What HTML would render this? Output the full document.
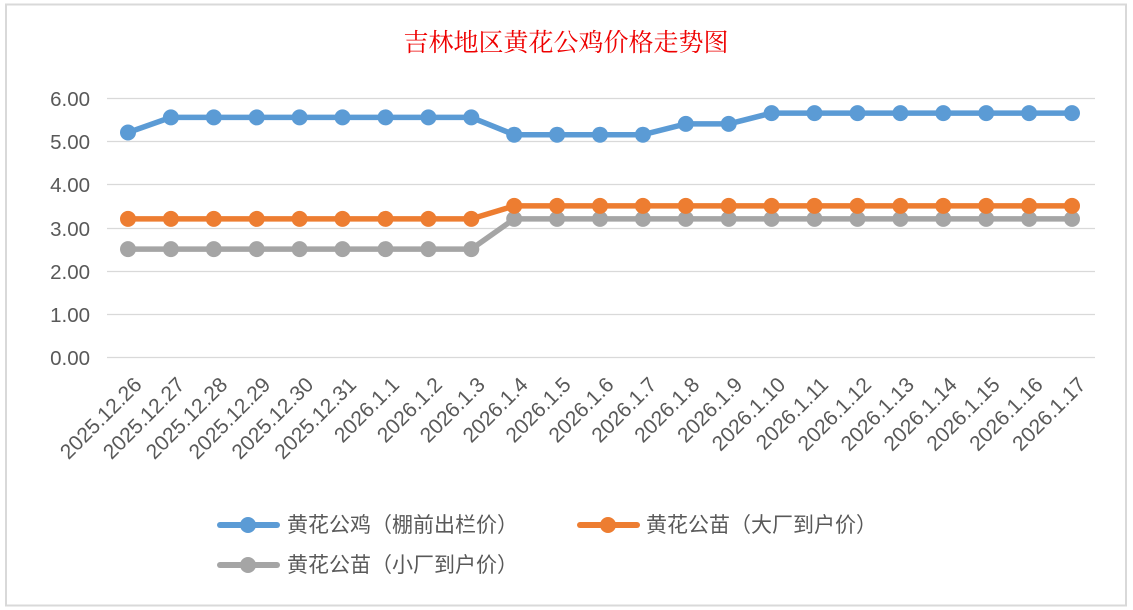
<!DOCTYPE html><html><head><meta charset="utf-8"><style>body{margin:0;background:#fff}svg{display:block}text{font-family:"Liberation Sans","Noto Sans CJK SC",sans-serif}</style></head><body>
<svg width="1133" height="610" xmlns="http://www.w3.org/2000/svg">
<rect x="0" y="0" width="1133" height="610" fill="#fff"/>
<rect x="6" y="4.5" width="1120" height="601" fill="#fff" stroke="#d9d9d9" stroke-width="2"/>
<text x="566" y="51" text-anchor="middle" font-size="25" fill="#e00" style="font-family:'Noto Serif CJK SC',serif">吉林地区黄花公鸡价格走势图</text>
<g stroke="#d9d9d9" stroke-width="1.3">
<line x1="107" x2="1095" y1="98.5" y2="98.5"/><line x1="107" x2="1095" y1="141.5" y2="141.5"/><line x1="107" x2="1095" y1="184.5" y2="184.5"/><line x1="107" x2="1095" y1="228.5" y2="228.5"/><line x1="107" x2="1095" y1="271.5" y2="271.5"/><line x1="107" x2="1095" y1="314.5" y2="314.5"/><line x1="107" x2="1095" y1="357.5" y2="357.5"/>
</g>
<g font-size="20.5" fill="#595959" text-anchor="end">
<text x="90" y="106">6.00</text><text x="90" y="149">5.00</text><text x="90" y="192">4.00</text><text x="90" y="236">3.00</text><text x="90" y="279">2.00</text><text x="90" y="322">1.00</text><text x="90" y="365">0.00</text>
</g>
<g fill="none" stroke-width="5.5" stroke-linejoin="round" stroke-linecap="round">
<polyline stroke="#a5a5a5" points="128,249.1 471.3,249.1 514.2,218.9 1072,218.9"/>
<polyline stroke="#ed7d31" points="128,218.9 471.3,218.9 514.2,205.9 1072,205.9"/>
<polyline stroke="#5b9bd5" points="128,132.5 170.9,117.4 471.3,117.4 514.2,134.7 642.9,134.7 685.8,123.9 728.7,123.9 771.6,113.1 1072,113.1"/>
</g>
<g fill="#a5a5a5">
<circle cx="128" cy="249.1" r="8"/><circle cx="170.9" cy="249.1" r="8"/><circle cx="213.8" cy="249.1" r="8"/><circle cx="256.7" cy="249.1" r="8"/><circle cx="299.6" cy="249.1" r="8"/><circle cx="342.5" cy="249.1" r="8"/><circle cx="385.5" cy="249.1" r="8"/><circle cx="428.4" cy="249.1" r="8"/><circle cx="471.3" cy="249.1" r="8"/>
<circle cx="514.2" cy="218.9" r="8"/><circle cx="557.1" cy="218.9" r="8"/><circle cx="600" cy="218.9" r="8"/><circle cx="642.9" cy="218.9" r="8"/><circle cx="685.8" cy="218.9" r="8"/><circle cx="728.7" cy="218.9" r="8"/><circle cx="771.6" cy="218.9" r="8"/><circle cx="814.5" cy="218.9" r="8"/><circle cx="857.5" cy="218.9" r="8"/><circle cx="900.4" cy="218.9" r="8"/><circle cx="943.3" cy="218.9" r="8"/><circle cx="986.2" cy="218.9" r="8"/><circle cx="1029.1" cy="218.9" r="8"/><circle cx="1072" cy="218.9" r="8"/>
</g>
<g fill="#ed7d31">
<circle cx="128" cy="218.9" r="8"/><circle cx="170.9" cy="218.9" r="8"/><circle cx="213.8" cy="218.9" r="8"/><circle cx="256.7" cy="218.9" r="8"/><circle cx="299.6" cy="218.9" r="8"/><circle cx="342.5" cy="218.9" r="8"/><circle cx="385.5" cy="218.9" r="8"/><circle cx="428.4" cy="218.9" r="8"/><circle cx="471.3" cy="218.9" r="8"/>
<circle cx="514.2" cy="205.9" r="8"/><circle cx="557.1" cy="205.9" r="8"/><circle cx="600" cy="205.9" r="8"/><circle cx="642.9" cy="205.9" r="8"/><circle cx="685.8" cy="205.9" r="8"/><circle cx="728.7" cy="205.9" r="8"/><circle cx="771.6" cy="205.9" r="8"/><circle cx="814.5" cy="205.9" r="8"/><circle cx="857.5" cy="205.9" r="8"/><circle cx="900.4" cy="205.9" r="8"/><circle cx="943.3" cy="205.9" r="8"/><circle cx="986.2" cy="205.9" r="8"/><circle cx="1029.1" cy="205.9" r="8"/><circle cx="1072" cy="205.9" r="8"/>
</g>
<g fill="#5b9bd5">
<circle cx="128" cy="132.5" r="8"/><circle cx="170.9" cy="117.4" r="8"/><circle cx="213.8" cy="117.4" r="8"/><circle cx="256.7" cy="117.4" r="8"/><circle cx="299.6" cy="117.4" r="8"/><circle cx="342.5" cy="117.4" r="8"/><circle cx="385.5" cy="117.4" r="8"/><circle cx="428.4" cy="117.4" r="8"/><circle cx="471.3" cy="117.4" r="8"/>
<circle cx="514.2" cy="134.7" r="8"/><circle cx="557.1" cy="134.7" r="8"/><circle cx="600" cy="134.7" r="8"/><circle cx="642.9" cy="134.7" r="8"/><circle cx="685.8" cy="123.9" r="8"/><circle cx="728.7" cy="123.9" r="8"/><circle cx="771.6" cy="113.1" r="8"/><circle cx="814.5" cy="113.1" r="8"/><circle cx="857.5" cy="113.1" r="8"/><circle cx="900.4" cy="113.1" r="8"/><circle cx="943.3" cy="113.1" r="8"/><circle cx="986.2" cy="113.1" r="8"/><circle cx="1029.1" cy="113.1" r="8"/><circle cx="1072" cy="113.1" r="8"/>
</g>
<g font-size="21" fill="#595959" text-anchor="end">
<text transform="translate(143,386) rotate(-45)">2025.12.26</text>
<text transform="translate(185.9,386) rotate(-45)">2025.12.27</text>
<text transform="translate(228.8,386) rotate(-45)">2025.12.28</text>
<text transform="translate(271.7,386) rotate(-45)">2025.12.29</text>
<text transform="translate(314.6,386) rotate(-45)">2025.12.30</text>
<text transform="translate(357.5,386) rotate(-45)">2025.12.31</text>
<text transform="translate(400.5,386) rotate(-45)">2026.1.1</text>
<text transform="translate(443.4,386) rotate(-45)">2026.1.2</text>
<text transform="translate(486.3,386) rotate(-45)">2026.1.3</text>
<text transform="translate(529.2,386) rotate(-45)">2026.1.4</text>
<text transform="translate(572.1,386) rotate(-45)">2026.1.5</text>
<text transform="translate(615,386) rotate(-45)">2026.1.6</text>
<text transform="translate(657.9,386) rotate(-45)">2026.1.7</text>
<text transform="translate(700.8,386) rotate(-45)">2026.1.8</text>
<text transform="translate(743.7,386) rotate(-45)">2026.1.9</text>
<text transform="translate(786.6,386) rotate(-45)">2026.1.10</text>
<text transform="translate(829.5,386) rotate(-45)">2026.1.11</text>
<text transform="translate(872.5,386) rotate(-45)">2026.1.12</text>
<text transform="translate(915.4,386) rotate(-45)">2026.1.13</text>
<text transform="translate(958.3,386) rotate(-45)">2026.1.14</text>
<text transform="translate(1001.2,386) rotate(-45)">2026.1.15</text>
<text transform="translate(1044.1,386) rotate(-45)">2026.1.16</text>
<text transform="translate(1087,386) rotate(-45)">2026.1.17</text>
</g>
<g font-size="21" fill="#595959">
<line x1="220" x2="277" y1="525" y2="525" stroke="#5b9bd5" stroke-width="6" stroke-linecap="round"/><circle cx="248" cy="525" r="8" fill="#5b9bd5"/>
<text x="287" y="532">黄花公鸡（棚前出栏价）</text>
<line x1="580" x2="637" y1="525" y2="525" stroke="#ed7d31" stroke-width="6" stroke-linecap="round"/><circle cx="608" cy="525" r="8" fill="#ed7d31"/>
<text x="646" y="532">黄花公苗（大厂到户价）</text>
<line x1="220" x2="277" y1="565" y2="565" stroke="#a5a5a5" stroke-width="6" stroke-linecap="round"/><circle cx="248" cy="565" r="8" fill="#a5a5a5"/>
<text x="287" y="572">黄花公苗（小厂到户价）</text>
</g>
</svg></body></html>
